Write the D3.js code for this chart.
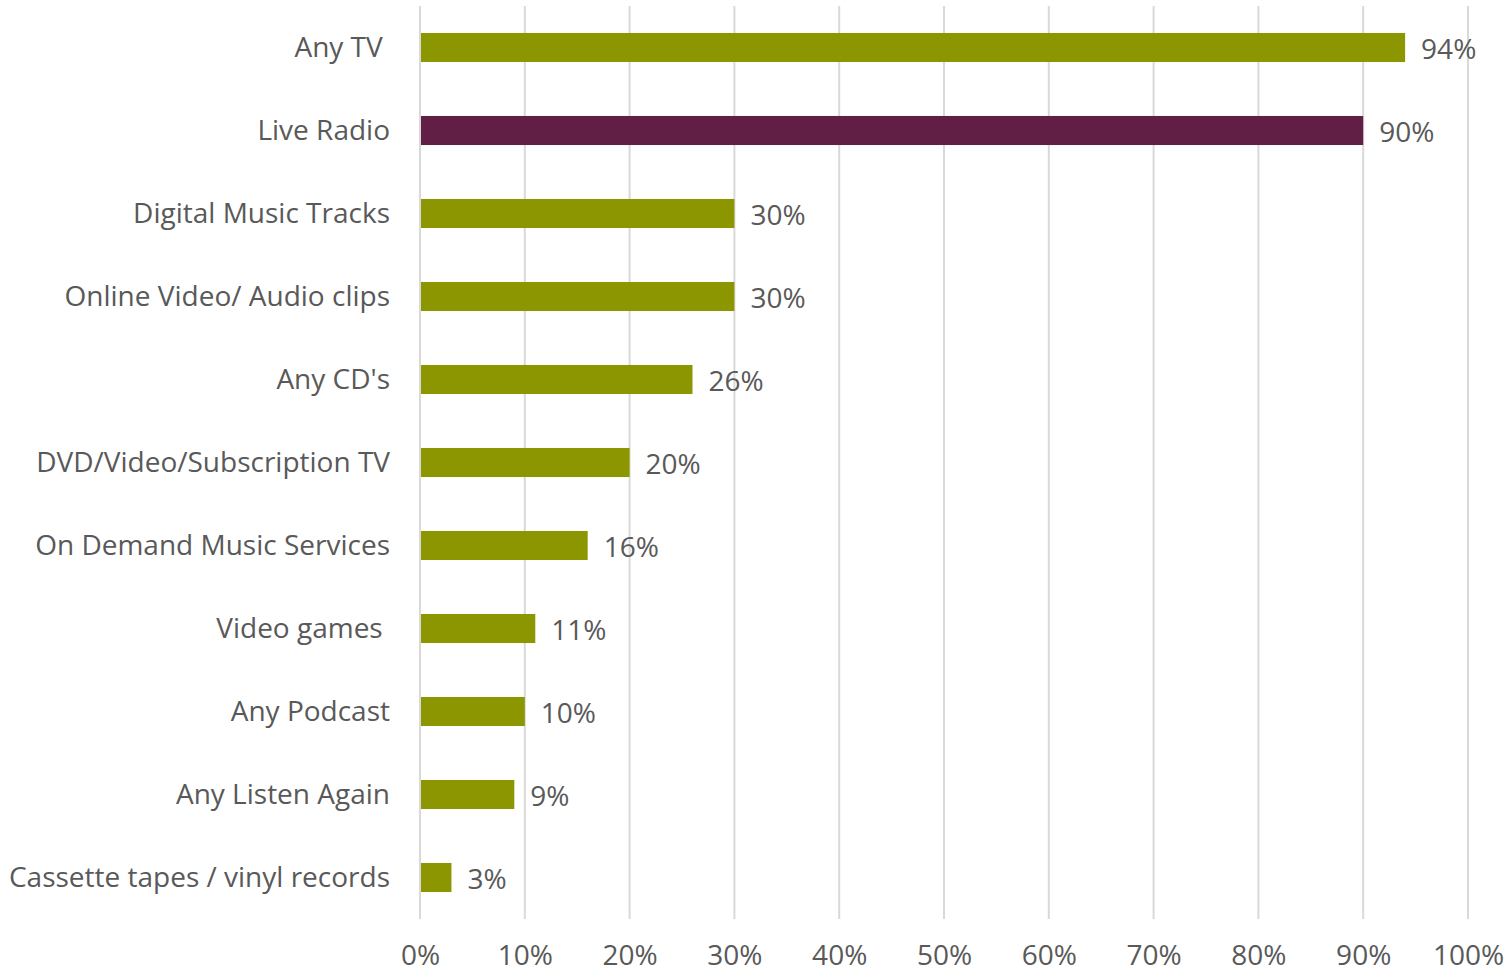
<!DOCTYPE html>
<html>
<head>
<meta charset="utf-8">
<script src="https://cdn.jsdelivr.net/npm/d3@7/dist/d3.min.js"></script>
<style>
  html, body { margin: 0; padding: 0; background: #fff; }
  svg text { font-family: "Open Sans", sans-serif; fill: #595959; white-space: pre; }
</style>
</head>
<body>
<svg id="chart" width="1509" height="974"></svg>
<script>
// Share of respondents using each medium
const categories = [
  "Any TV ", "Live Radio", "Digital Music Tracks", "Online Video/ Audio clips",
  "Any CD's", "DVD/Video/Subscription TV", "On Demand Music Services",
  "Video games ", "Any Podcast", "Any Listen Again", "Cassette tapes / vinyl records"
];
const values = [94, 90, 30, 30, 26, 20, 16, 11, 10, 9, 3];
const highlighted = ["Live Radio"];
const tickValues = [0, 10, 20, 30, 40, 50, 60, 70, 80, 90, 100];

const FONT = "'Open Sans', sans-serif";
const FONT_SIZE = 28;
const svg = d3.select("#chart");
const margin = { top: 6, right: 41, bottom: 55, left: 420 };
const width = 1509 - margin.left - margin.right;
const height = 974 - margin.top - margin.bottom;

const x = d3.scaleLinear().domain([0, 100]).range([0, width]);
const y = d3.scaleBand().domain(categories).range([0, height]).paddingInner(0.65).paddingOuter(0.325);

const g = svg.append("g").attr("transform", `translate(${margin.left},${margin.top})`);

// vertical gridlines
g.append("g").selectAll("line").data(tickValues).join("line")
  .attr("x1", d => x(d)).attr("x2", d => x(d))
  .attr("y1", 0).attr("y2", height)
  .attr("stroke", "#d9d9d9").attr("stroke-width", 2);

// x axis tick labels
const xAxis = g.append("g").attr("transform", `translate(0,${height})`)
  .call(d3.axisBottom(x).tickValues(tickValues).tickFormat(d => d + "%").tickSize(0).tickPadding(26));
xAxis.select(".domain").remove();
xAxis.selectAll("text").attr("font-size", FONT_SIZE).style("font-family", FONT).style("fill", "#595959");

// category labels
const yAxis = g.append("g")
  .call(d3.axisLeft(y).tickSize(0).tickPadding(30));
yAxis.select(".domain").remove();
yAxis.selectAll("text").attr("font-size", FONT_SIZE).attr("dy", "0.33em").style("font-family", FONT).style("fill", "#595959");

// bars
g.append("g").selectAll("rect").data(categories).join("rect")
  .attr("x", x(0) + 1)
  .attr("y", d => y(d))
  .attr("width", (d, i) => x(values[i]) - x(0) - 1)
  .attr("height", y.bandwidth())
  .attr("fill", d => highlighted.includes(d) ? "#621f45" : "#8c9600");

// value labels
g.append("g").selectAll("text").data(categories).join("text")
  .attr("x", (d, i) => x(values[i]) + 16)
  .attr("y", d => y(d) + y.bandwidth() / 2 + 2)
  .attr("dy", "0.33em")
  .attr("font-size", FONT_SIZE)
  .text((d, i) => values[i] + "%");
</script>
</body>
</html>
